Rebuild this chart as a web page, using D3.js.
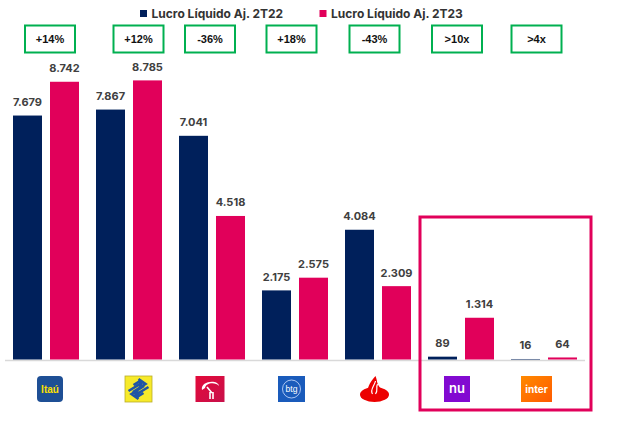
<!DOCTYPE html>
<html><head><meta charset="utf-8">
<script src="https://cdn.jsdelivr.net/npm/d3@7"></script>
<style>html,body{margin:0;padding:0;background:#fff;}svg{display:block;}</style>
</head><body>
<svg id="chart" width="619" height="430"></svg>
<script>
// ---- data ----
const banks = ["Itaú", "BB", "Bradesco", "BTG", "Santander", "Nubank", "Inter"];
const series = ["Lucro Líquido Aj. 2T22", "Lucro Líquido Aj. 2T23"];
const values2T22 = [7679, 7867, 7041, 2175, 4084, 89, 16];
const values2T23 = [8742, 8785, 4518, 2575, 2309, 1314, 64];
const labels2T22 = ["7.679", "7.867", "7.041", "2.175", "4.084", "89", "16"];
const labels2T23 = ["8.742", "8.785", "4.518", "2.575", "2.309", "1.314", "64"];
const growth = ["+14%", "+12%", "-36%", "+18%", "-43%", ">10x", ">4x"];
const highlighted = ["Nubank", "Inter"];

// ---- layout ----
const colors = ["#00205b", "#e1005a"];
const labelShift = [4, 9.5, -2, -3.5, -3.5, -4, -7.5]; // logo / box offset from group centre
const svg = d3.select("#chart");
const baseY = 359.5;

const x0 = d3.scaleBand().domain(banks).range([4.5, 585.5]).paddingInner(17/83).paddingOuter(8.5/83);
const x1 = d3.scaleBand().domain(series).range([0, x0.bandwidth()]).paddingInner(8/37).paddingOuter(0);
const y = d3.scaleLinear().domain([0, 10000]).range([baseY, baseY - 317.7]);

const rows = banks.map((b, i) => ({bank: b, i, vals: [
  {s: series[0], v: values2T22[i], l: labels2T22[i], c: colors[0]},
  {s: series[1], v: values2T23[i], l: labels2T23[i], c: colors[1]}]}));

// axis line
svg.append("line").attr("x1", 5).attr("x2", 585).attr("y1", 360.5).attr("y2", 360.5)
  .attr("stroke", "#d9d9d9").attr("stroke-width", 1.5);

const g = svg.selectAll("g.grp").data(rows).join("g").attr("class", "grp")
  .attr("transform", d => `translate(${x0(d.bank)},0)`);
g.selectAll("rect").data(d => d.vals).join("rect")
  .attr("x", d => x1(d.s)).attr("width", x1.bandwidth())
  .attr("y", d => y(d.v)).attr("height", d => baseY - y(d.v))
  .attr("fill", d => d.c);
g.selectAll("text.val").data(d => d.vals).join("text").attr("class", "val")
  .attr("x", d => x1(d.s) + x1.bandwidth() / 2)
  .attr("y", d => y(d.v) - 9.5)
  .attr("text-anchor", "middle")
  .attr("font-family", "Inter, sans-serif").attr("font-weight", 700).attr("font-size", 11)
  .attr("fill", "#404040").text(d => d.l);

// growth boxes
const cx = i => x0(banks[i]) + x0.bandwidth() / 2 + labelShift[i];
const boxes = svg.selectAll("g.box").data(growth).join("g").attr("class", "box")
  .attr("transform", (d, i) => `translate(${cx(i)},39)`);
boxes.append("rect").attr("x", -25).attr("y", -13.5).attr("width", 50).attr("height", 27)
  .attr("fill", "#fff").attr("stroke", "#00b050").attr("stroke-width", 2);
boxes.append("text").attr("text-anchor", "middle").attr("y", 4)
  .attr("font-family", "Liberation Sans, Arial, sans-serif").attr("font-weight", 700)
  .attr("font-size", 11).attr("fill", "#111").text(d => d);

// legend
const leg = svg.append("g");
const legX = [140, 319.5];
series.forEach((s, i) => {
  leg.append("rect").attr("x", legX[i]).attr("y", 10).attr("width", 7).attr("height", 7).attr("fill", colors[i]);
  leg.append("text").attr("x", legX[i] + 11.5).attr("y", 17.5)
    .attr("font-family", "Inter, sans-serif").attr("font-weight", 700).attr("font-size", 12)
    .attr("fill", "#333").text(s);
});

// highlight frame
const hx0 = x0(highlighted[0]) - 8, hx1 = x0(highlighted[1]) + x0.bandwidth() + 14;
svg.append("rect").attr("x", hx0).attr("y", 217).attr("width", hx1 - hx0).attr("height", 193)
  .attr("fill", "none").attr("stroke", "#e1005a").attr("stroke-width", 3);

// logos
const defs = svg.append("defs");
const gr = defs.append("linearGradient").attr("id", "interG").attr("x1", 0).attr("x2", 1).attr("y1", 0).attr("y2", 1);
gr.append("stop").attr("offset", 0).attr("stop-color", "#ff8a00");
gr.append("stop").attr("offset", 1).attr("stop-color", "#ff5a00");
const brG = defs.append("linearGradient").attr("id", "brG").attr("x1", 0).attr("x2", 1).attr("y1", 0).attr("y2", 1);
brG.append("stop").attr("offset", 0).attr("stop-color", "#e30a3a");
brG.append("stop").attr("offset", 1).attr("stop-color", "#c8104a");

const logo = banks.map((b, i) => svg.append("g").attr("transform", `translate(${cx(i)},389)`));
// Itaú
logo[0].append("rect").attr("x", -13).attr("y", -13).attr("width", 26).attr("height", 26).attr("rx", 4).attr("fill", "#1e4f95");
logo[0].append("text").attr("text-anchor", "middle").attr("y", 4).attr("font-family", "Liberation Sans, Arial").attr("font-weight", 700)
  .attr("font-size", 10).attr("fill", "#ffe000").text("Itaú");
// BB
logo[1].append("rect").attr("x", -13.5).attr("y", -13).attr("width", 27).attr("height", 26).attr("fill", "#f7ea2a").attr("stroke", "#b8ad2a").attr("stroke-width", 0.8);
logo[1].append("path").attr("d", "M0,-10 L7,-5 L-4,2 L0,4 L10,-2 M0,10 L-7,5 L4,-2 L0,-4 L-10,2 M-5,-4 L0,-7 L4,-5 M5,4 L0,7 L-4,5")
  .attr("fill", "none").attr("stroke", "#1f55a5").attr("stroke-width", 2.6).attr("stroke-linejoin", "miter");
// Bradesco
logo[2].append("rect").attr("x", -14.5).attr("y", -13).attr("width", 29).attr("height", 26).attr("fill", "url(#brG)");
logo[2].append("path").attr("d", "M-8,1 C-10,-8 8,-10 9,-3 C6,-7 -4,-7 -5,-1 Z").attr("fill", "#fff");
logo[2].append("path").attr("d", "M-3,-2 L2,4 M0,3 L0,10 M3,3 L3,10").attr("stroke", "#fff").attr("stroke-width", 1.6).attr("fill", "none");
// BTG
logo[3].append("rect").attr("x", -13.5).attr("y", -13).attr("width", 27).attr("height", 26).attr("fill", "#1a5bbb");
logo[3].append("circle").attr("r", 9).attr("fill", "none").attr("stroke", "#cfe0ff").attr("stroke-width", 0.8);
logo[3].append("text").attr("text-anchor", "middle").attr("y", 3).attr("font-family", "Liberation Sans, Arial")
  .attr("font-size", 8.5).attr("fill", "#fff").text("btg");
// Santander
logo[4].append("ellipse").attr("cx", 0).attr("cy", 5.5).attr("rx", 14.5).attr("ry", 7.5).attr("fill", "#ec0000");
logo[4].append("path").attr("d", "M-5,6 C-9,0 -5,-6 1,-13 C3,-8 2,-6 5,-2 C7,1 7,4 5,6 Z").attr("fill", "#ec0000");
logo[4].append("path").attr("d", "M-2,5 C-5,1 0,-3 1,-8 M1,5 C4,1 1,-1 3,-5").attr("fill", "none").attr("stroke", "#fff").attr("stroke-width", 1.2);
// Nubank
logo[5].append("rect").attr("x", -13).attr("y", -13).attr("width", 26).attr("height", 26).attr("fill", "#820ad1");
logo[5].append("text").attr("text-anchor", "middle").attr("y", 4).attr("font-family", "Inter, sans-serif").attr("font-weight", 600)
  .attr("font-size", 13).attr("fill", "#fff").text("nu");
// Inter
logo[6].append("rect").attr("x", -15.5).attr("y", -13).attr("width", 31).attr("height", 26).attr("fill", "url(#interG)");
logo[6].append("text").attr("text-anchor", "middle").attr("y", 3.5).attr("font-family", "Inter, sans-serif").attr("font-weight", 700)
  .attr("font-size", 10).attr("fill", "#fff").text("inter");
</script>
</body></html>
